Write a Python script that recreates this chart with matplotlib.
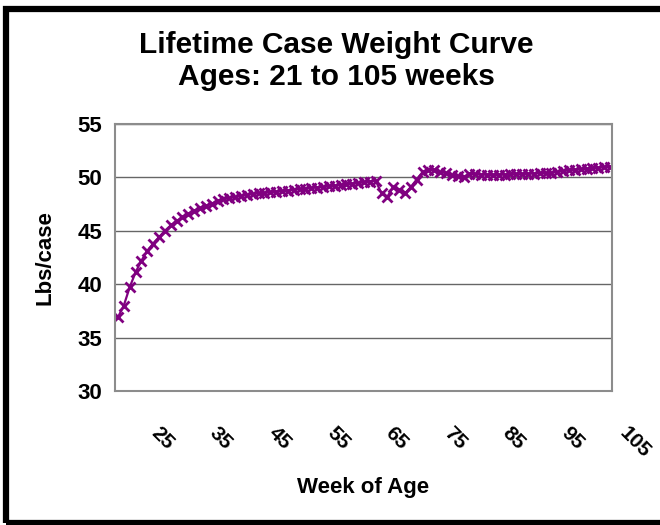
import numpy as np
import matplotlib
matplotlib.use("Agg")
import matplotlib.pyplot as plt
import matplotlib.transforms as mtransforms
from matplotlib.patches import Rectangle

plt.rcParams['font.family'] = ['Liberation Sans', 'DejaVu Sans']
plt.rcParams['font.weight'] = 'bold'

# weekly data, ages 21..105
weeks = np.arange(21, 106)
lbs_per_case = [
    36.9, 38.0, 39.7, 41.1, 42.2, 43.1, 43.8, 44.4, 45.0, 45.5,
    45.9, 46.3, 46.6, 46.9, 47.1, 47.3, 47.55, 47.8, 47.95, 48.05,
    48.15, 48.25, 48.35, 48.45, 48.5, 48.55, 48.6, 48.65, 48.7, 48.75,
    48.85, 48.9, 48.95, 49.0, 49.05, 49.1, 49.15, 49.2, 49.3, 49.35,
    49.4, 49.45, 49.55, 49.6, 49.7, 48.5, 48.2, 49.1, 48.8, 48.5,
    49.1, 49.8, 50.5, 50.7, 50.7, 50.5, 50.4, 50.2, 50.1, 50.0,
    50.35, 50.3, 50.25, 50.25, 50.2, 50.25, 50.25, 50.3, 50.3, 50.3,
    50.35, 50.35, 50.4, 50.4, 50.45, 50.5, 50.6, 50.65, 50.7, 50.75,
    50.8, 50.85, 50.9, 50.95, 51.0,
]
x_ticks = [25, 35, 45, 55, 65, 75, 85, 95, 105]
y_ticks = [30, 35, 40, 45, 50, 55]

purple = '#800080'

fig = plt.figure(figsize=(6.6, 5.25), dpi=100)
ax = fig.add_axes([115 / 660, 1 - 391 / 525, 497 / 660, 267 / 525])

ax.plot(weeks, lbs_per_case, color=purple, lw=1.6, marker='x',
        markersize=7.5, markeredgewidth=2)

ax.set_xlim(20.5, 105.35)
ax.set_ylim(30, 55)
ax.set_yticks(y_ticks)
ax.set_xticks(x_ticks)
ax.set_xticklabels([str(t) for t in x_ticks], rotation=-45, ha='left', va='top')
ax.tick_params(axis='both', length=0)
ax.tick_params(axis='y', pad=9, labelsize=16)
ax.tick_params(axis='x', pad=0, labelsize=15)

# shift x labels a bit right and down like the original
off = mtransforms.ScaledTranslation(6 / 100, -32 / 100, fig.dpi_scale_trans)
for lbl in ax.get_xticklabels():
    lbl.set_transform(lbl.get_transform() + off)

ax.grid(axis='y', color='#666666', lw=1)
ax.set_axisbelow(True)
for s in ax.spines.values():
    s.set_color('#8c8c8c')
    s.set_linewidth(1.5)

ax.set_xlabel('Week of Age', fontsize=16, fontweight='bold')
ax.xaxis.set_label_coords(0.5, -(487 - 391) / 267)
ax.xaxis.label.set_va('center')
ax.set_ylabel('Lbs/case', fontsize=16, fontweight='bold')
ax.yaxis.set_label_coords(-(115 - 45) / 497, 0.5)
ax.yaxis.label.set_va('center')

fig.text(336 / 660, 1 - 53 / 525, 'Lifetime Case Weight Curve', ha='center',
         va='baseline', fontsize=21.5, fontweight='bold')
fig.text(336 / 660, 1 - 85 / 525, 'Ages: 21 to 105 weeks', ha='center',
         va='baseline', fontsize=21.5, fontweight='bold')

# black outer frame
fig.patches.append(Rectangle((6 / 660, 1 - 522.5 / 525), 1.1, (522.5 - 8.5) / 525,
                             transform=fig.transFigure, fill=False,
                             edgecolor='black', lw=4.5))

fig.savefig('out.png', dpi=100)
